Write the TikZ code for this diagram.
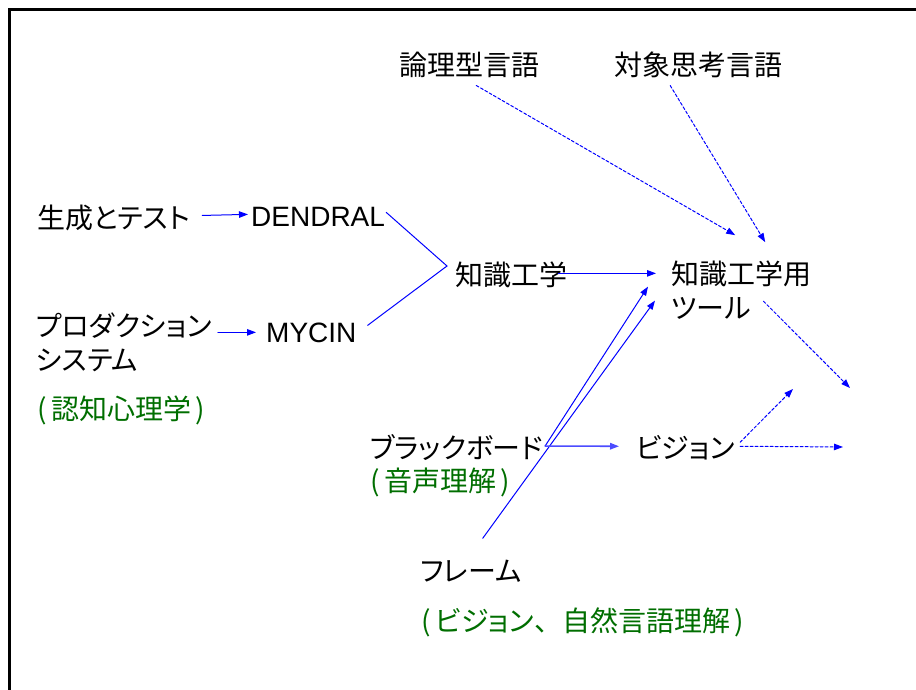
\documentclass[tikz,border=0pt]{standalone}
\usepackage{fontspec}
\setmainfont{Liberation Sans}
\newfontfamily\jpfont[RawFeature=+palt]{Noto Sans CJK JP}
\usetikzlibrary{arrows.meta,calc}

\begin{document}
\begin{tikzpicture}[x=1pt, y=-1pt, >={Triangle[length=9pt,width=6.5pt]}, line cap=round,
  lbl/.style={inner sep=0pt, anchor=base west, align=left, font=\fontsize{28}{34}\selectfont},
  jlbl/.style={lbl, font=\fontsize{28}{34}\selectfont\jpfont},
  note/.style={jlbl, text=dgreen},
  link/.style={blue, line width=1pt},
  hint/.style={blue, line width=1pt, dash pattern=on 3pt off 2pt}]
  \definecolor{dgreen}{RGB}{0,110,0}
  \useasboundingbox (0,0) rectangle (916,690);
  % slide frame
  \draw[line width=3pt] (9.5,690) -- (9.5,9.5) -- (916,9.5);
  % labels
  \node[jlbl] (logic) at (399,76) {論理型言語};
  \node[jlbl] (obj) at (614,76) {対象思考言語};
  \node[jlbl] (gen) at (37,228) {生成とテスト};
  \node[lbl] (dendral) at (251,226) {DENDRAL};
  \node[jlbl] (prod) at (36,370) {プロダクション\\システム};
  \node[lbl] (mycin) at (266,342) {MYCIN};
  \node[note] (cog) at (37,419) {(\,認知心理学\,)};
  \node[jlbl] (kk) at (455,285) {知識工学};
  \node[jlbl] (tool) at (671,318) {知識工学用\\ツール};
  \node[jlbl] (bb) at (370,458) {ブラックボード};
  \node[jlbl] (vision) at (636,458) {ビジョン};
  \node[note] (voice) at (370,491) {(\,音声理解\,)};
  \node[jlbl] (frame) at (420,581) {フレーム};
  \node[note] (fnote) at (421,631) {(\,ビジョン{\addfontfeature{RawFeature=-palt}、}自然言語理解\,)};
  % free ends
  \coordinate (join) at (447,266);
  \coordinate (out1) at (850,388);
  \coordinate (out2) at (793,389);
  \coordinate (out3) at (843,447);
  % connectors
  \draw[link,->] ($(gen.east)+(12,-2)$) -- ($(dendral.west)+(-3,-2)$);
  \draw[link,->] ($(mycin.west -| prod.east)+(6,0)$) -- ($(mycin.west)+(-10,0)$);
  \draw[link] ($(dendral.east)+(1,-4)$) -- (join) -- ($(mycin.east)+(11,-7)$);
  \draw[link,->] ($(kk.east)+(-9,-1)$) -- ($(kk.east -| tool.west)+(-15,-1)$);
  \draw[hint,->] ($(logic.south)+(7,7)$) -- ($(tool.north)+(-6,-25)$);
  \draw[hint,->] ($(obj.south)+(-28,7)$) -- ($(tool.north)+(24,-18)$);
  \draw[hint,->] ($(tool.south east)+(-48,-18)$) -- (out1);
  \draw[link,->] ($(bb.east)+(2,-1)$) -- ($(tool.west)+(-23,-3)$);
  \draw[link,->] ($(frame.north)+(12,-21)$) -- ($(tool.west)+(-16,11)$);
  \draw[blue!70, line width=1.6pt, ->] ($(bb.east)+(2,-1)$) -- ($(vision.west)+(-17,-1)$);
  \draw[hint,->] ($(vision.east)+(5,-5)$) -- (out2);
  \draw[hint,->] ($(vision.east)+(5,-1)$) -- (out3);
\end{tikzpicture}
\end{document}
